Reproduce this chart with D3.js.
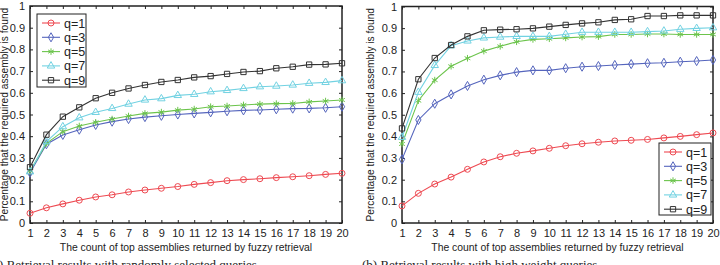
<!DOCTYPE html>
<html>
<head>
<meta charset="utf-8">
<script src="https://cdnjs.cloudflare.com/ajax/libs/d3/7.8.5/d3.min.js"></script>
<style>
  body { margin: 0; background: #fff; }
  svg { display: block; font-family: "Liberation Sans", Arial, sans-serif; }
</style>
</head>
<body>
<svg id="chart" width="720" height="265"></svg>
<script>
// x categories: count of top assemblies
var counts = d3.range(1, 21);
var seriesNames = ["q=1", "q=3", "q=5", "q=7", "q=9"];
var yTicks = [0, 0.1, 0.2, 0.3, 0.4, 0.5, 0.6, 0.7, 0.8, 0.9, 1];

// (a) randomly selected queries
var randQ1 = [0.045, 0.07, 0.088, 0.105, 0.12, 0.13, 0.143, 0.152, 0.16, 0.168, 0.178, 0.186, 0.195, 0.2, 0.204, 0.209, 0.213, 0.218, 0.224, 0.229];
var randQ3 = [0.232, 0.363, 0.406, 0.43, 0.452, 0.467, 0.479, 0.488, 0.494, 0.5, 0.505, 0.51, 0.515, 0.519, 0.521, 0.524, 0.527, 0.528, 0.531, 0.536];
var randQ5 = [0.24, 0.367, 0.421, 0.447, 0.464, 0.479, 0.493, 0.505, 0.511, 0.52, 0.525, 0.536, 0.539, 0.544, 0.548, 0.55, 0.551, 0.558, 0.562, 0.567];
var randQ7 = [0.236, 0.375, 0.444, 0.485, 0.51, 0.528, 0.548, 0.567, 0.573, 0.588, 0.593, 0.605, 0.611, 0.62, 0.628, 0.631, 0.636, 0.644, 0.648, 0.656];
var randQ9 = [0.257, 0.407, 0.49, 0.533, 0.575, 0.6, 0.62, 0.636, 0.65, 0.659, 0.671, 0.677, 0.687, 0.696, 0.7, 0.713, 0.72, 0.73, 0.731, 0.736];

// (b) high weight queries
var highQ1 = [0.079, 0.137, 0.18, 0.212, 0.248, 0.282, 0.306, 0.322, 0.333, 0.345, 0.357, 0.366, 0.373, 0.379, 0.382, 0.386, 0.393, 0.4, 0.408, 0.416];
var highQ3 = [0.294, 0.476, 0.551, 0.594, 0.633, 0.662, 0.682, 0.697, 0.705, 0.705, 0.715, 0.722, 0.725, 0.73, 0.734, 0.738, 0.74, 0.745, 0.748, 0.753];
var highQ5 = [0.365, 0.565, 0.66, 0.724, 0.761, 0.794, 0.816, 0.837, 0.848, 0.851, 0.855, 0.859, 0.861, 0.871, 0.871, 0.873, 0.873, 0.871, 0.871, 0.871];
var highQ7 = [0.396, 0.604, 0.728, 0.819, 0.841, 0.855, 0.859, 0.862, 0.862, 0.862, 0.872, 0.881, 0.881, 0.881, 0.881, 0.884, 0.887, 0.895, 0.899, 0.902];
var highQ9 = [0.437, 0.664, 0.762, 0.822, 0.862, 0.89, 0.893, 0.895, 0.899, 0.907, 0.915, 0.922, 0.927, 0.938, 0.941, 0.956, 0.956, 0.959, 0.959, 0.959];

var colors = ["#ee4a52", "#5565bd", "#6cc44c", "#72d2e2", "#333333"];
var symbols = [d3.symbolCircle, d3.symbolDiamond, d3.symbolAsterisk || d3.symbolStar, d3.symbolTriangle, d3.symbolSquare];
var symSizes = [28, 24, 30, 24, 28];

var svg = d3.select("#chart");

function drawPanel(opts) {
    var x = d3.scaleLinear().domain([1, 20]).range([opts.left, opts.right]);
    var y = d3.scaleLinear().domain([0, 1]).range([opts.bottom, opts.top]);
    var g = svg.append("g");

    // inward ticks on all four sides (matlab box style)
    g.append("g").attr("transform", "translate(0," + opts.bottom + ")")
        .call(d3.axisBottom(x).tickValues(counts).tickSizeInner(-3).tickSizeOuter(0).tickPadding(6));
    g.append("g").attr("transform", "translate(0," + opts.top + ")")
        .call(d3.axisTop(x).tickValues(counts).tickSizeInner(-3).tickSizeOuter(0).tickFormat(""));
    g.append("g").attr("transform", "translate(" + opts.left + ",0)")
        .call(d3.axisLeft(y).tickValues(yTicks).tickSizeInner(-3).tickSizeOuter(0).tickPadding(5).tickFormat(d3.format("~g")));
    g.append("g").attr("transform", "translate(" + opts.right + ",0)")
        .call(d3.axisRight(y).tickValues(yTicks).tickSizeInner(-3).tickSizeOuter(0).tickFormat(""));
    g.selectAll(".domain").remove();
    g.selectAll(".tick line").attr("stroke", "#222");
    g.selectAll(".tick text").attr("font-size", 11).attr("fill", "#222");
    g.append("rect")
        .attr("x", opts.left).attr("y", opts.top)
        .attr("width", opts.right - opts.left).attr("height", opts.bottom - opts.top)
        .attr("fill", "none").attr("stroke", "#222").attr("stroke-width", 1.5);

    var line = d3.line().x(function(d, i){ return x(counts[i]); }).y(function(d){ return y(d); });

    opts.series.forEach(function(vals, s){
        g.append("path").datum(vals)
            .attr("d", line).attr("fill", "none")
            .attr("stroke", colors[s]).attr("stroke-width", 1.1);
        g.selectAll(".m" + s).data(vals).enter().append("path")
            .attr("transform", function(d, i){ return "translate(" + x(counts[i]) + "," + y(d) + ")"; })
            .attr("d", d3.symbol().type(symbols[s]).size(symSizes[s]))
            .attr("fill", "none").attr("stroke", colors[s]).attr("stroke-width", 1);
    });

    // axis titles
    g.append("text")
        .attr("x", (opts.left + opts.right) / 2).attr("y", 251)
        .attr("text-anchor", "middle").attr("font-size", 10.4).attr("fill", "#222")
        .text("The count of top assemblies returned by fuzzy retrieval");
    g.append("text")
        .attr("transform", "translate(" + opts.ytitleX + "," + ((opts.top + opts.bottom) / 2) + ") rotate(-90)")
        .attr("text-anchor", "middle").attr("font-size", 10.2).attr("fill", "#222")
        .text("Percentage that the required assembly is found");

    // caption under the panel (cut by the bottom edge, as in the source)
    g.append("text")
        .attr("x", opts.captionX).attr("y", 269)
        .attr("font-family", "'Liberation Serif', 'DejaVu Serif', serif")
        .attr("font-size", 13).attr("fill", "#222")
        .text(opts.caption);

    // legend
    var lg = g.append("g");
    lg.append("rect")
        .attr("x", opts.legend.x).attr("y", opts.legend.y)
        .attr("width", opts.legend.w).attr("height", opts.legend.h)
        .attr("fill", "#fff").attr("stroke", "#222").attr("stroke-width", 1);
    seriesNames.forEach(function(name, s){
        var cy = opts.legend.y + 9 + s * 14.3;
        lg.append("line")
            .attr("x1", opts.legend.x + 5).attr("x2", opts.legend.x + 23)
            .attr("y1", cy).attr("y2", cy)
            .attr("stroke", colors[s]).attr("stroke-width", 1.1);
        lg.append("path")
            .attr("transform", "translate(" + (opts.legend.x + 14) + "," + cy + ")")
            .attr("d", d3.symbol().type(symbols[s]).size(symSizes[s]))
            .attr("fill", "none").attr("stroke", colors[s]).attr("stroke-width", 1);
        lg.append("text")
            .attr("x", opts.legend.x + 27).attr("y", cy + 4.5)
            .attr("font-size", 12.5).attr("fill", "#222")
            .text(name);
    });
}

drawPanel({
    left: 30, right: 342, top: 6, bottom: 223, ytitleX: 8,
    series: [randQ1, randQ3, randQ5, randQ7, randQ9],
    caption: "(a) Retrieval results with randomly selected queries",
    captionX: -11,
    legend: { x: 37, y: 14, w: 49, h: 73 }
});

drawPanel({
    left: 402, right: 713, top: 6.5, bottom: 223, ytitleX: 374,
    series: [highQ1, highQ3, highQ5, highQ7, highQ9],
    caption: "(b) Retrieval results with high weight queries",
    captionX: 362,
    legend: { x: 659, y: 143, w: 52, h: 72 }
});
</script>
</body>
</html>
